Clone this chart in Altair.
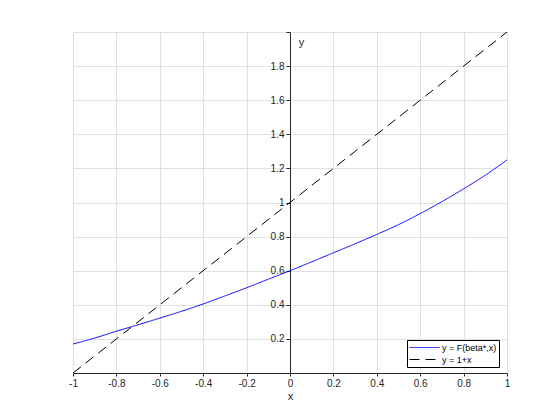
import altair as alt
import pandas as pd

# Curve y = F(beta*, x)
curve_x = [-1.0, -0.9, -0.8, -0.7, -0.6, -0.5, -0.4, -0.3, -0.2, -0.1, 0.0,
           0.1, 0.2, 0.3, 0.4, 0.5, 0.6, 0.7, 0.8, 0.9, 1.0]
curve_y = [0.17, 0.205, 0.245, 0.283, 0.322, 0.362, 0.405, 0.452, 0.50, 0.55, 0.60,
           0.652, 0.705, 0.758, 0.813, 0.87, 0.935, 1.005, 1.08, 1.16, 1.25]

# Reference line y = 1 + x
line_x = [-1.0, 1.0]
line_y = [0.0, 2.0]

series_names = ["y = F(beta*,x)", "y = 1+x"]
series_colors = ["blue", "black"]
series_dash = [[1, 0], [10, 6]]

x_ticks = [-1, -0.8, -0.6, -0.4, -0.2, 0, 0.2, 0.4, 0.6, 0.8, 1]
y_ticks = [0, 0.2, 0.4, 0.6, 0.8, 1, 1.2, 1.4, 1.6, 1.8, 2]

df = pd.concat([
    pd.DataFrame({"x": curve_x, "y": curve_y, "series": series_names[0]}),
    pd.DataFrame({"x": line_x, "y": line_y, "series": series_names[1]}),
])

W, H = 434, 341
FONT = "Liberation Sans"
AX = "#262626"

legend = alt.Legend(
    title=None, orient="none", legendX=334, legendY=308,
    symbolType="M-1,0H5", symbolSize=100, symbolStrokeWidth=1,
    labelFontSize=9, labelFont=FONT, labelColor="black",
    strokeColor="black", fillColor="white", padding=2, rowPadding=1,
    cornerRadius=0, labelOffset=22,
)

chart = alt.Chart(df).mark_line(strokeWidth=1, clip=True, interpolate="monotone").encode(
    x=alt.X("x:Q",
            scale=alt.Scale(domain=[-1, 1], nice=False, zero=False),
            axis=alt.Axis(values=x_ticks, title="x", grid=True,
                          labelExpr="'' + datum.value",
                          tickSize=3, labelPadding=2, titlePadding=2,
                          domainColor=AX, tickColor=AX, labelColor=AX, titleColor=AX,
                          labelFont=FONT, titleFont=FONT, labelFontSize=10,
                          titleFontSize=11, titleFontWeight="normal",
                          gridColor="#e0e0e0", labelFlush=False)),
    y=alt.Y("y:Q",
            scale=alt.Scale(domain=[0, 2], nice=False, zero=False),
            axis=alt.Axis(values=y_ticks, title="y", grid=True, offset=-W / 2,
                          labelExpr="(datum.value == 0 || datum.value == 2) ? '' : '' + datum.value",
                          tickSize=4, labelPadding=2,
                          titleAngle=0, titleX=11, titleY=10,
                          titleAlign="center", titleBaseline="middle",
                          domainColor=AX, tickColor=AX, labelColor=AX, titleColor=AX,
                          labelFont=FONT, titleFont=FONT, labelFontSize=10,
                          titleFontSize=11, titleFontWeight="normal",
                          gridColor="#e0e0e0")),
    color=alt.Color("series:N",
                    scale=alt.Scale(domain=series_names, range=series_colors),
                    legend=legend),
    strokeDash=alt.StrokeDash("series:N",
                              scale=alt.Scale(domain=series_names, range=series_dash),
                              legend=legend),
).properties(
    width=W, height=H,
    autosize=alt.AutoSizeParams(type="none"),
    padding={"left": 65, "top": 24, "right": 45, "bottom": 40},
).configure_view(stroke=None)

chart.save("out.html", embed_options={"renderer": "svg", "actions": False})
